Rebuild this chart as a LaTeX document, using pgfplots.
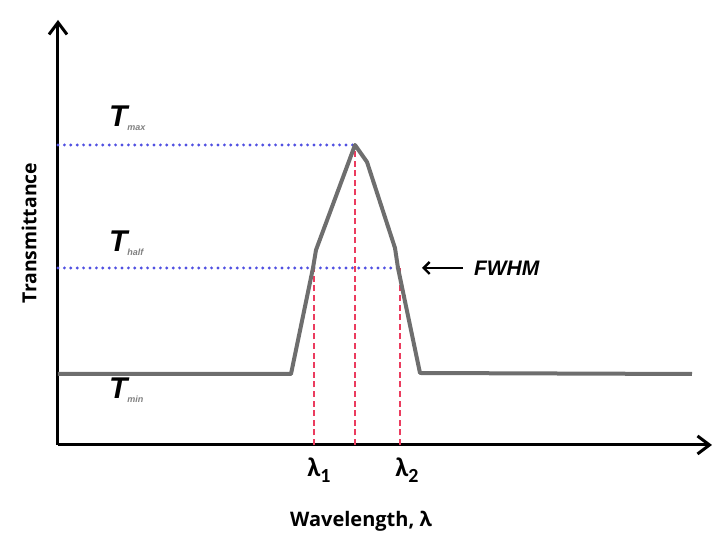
\documentclass[border=0pt]{standalone}
\usepackage{pgfplots}
\pgfplotsset{compat=1.18}
\usetikzlibrary{arrows.meta}
\usepackage{fontspec}
\setmainfont{Open Sans}
\newfontfamily\lsans{Liberation Sans}
\newfontfamily\carl{Carlito}
\definecolor{curvegray}{RGB}{110,110,110}
\definecolor{dotblue}{RGB}{80,80,225}
\definecolor{dashred}{RGB}{235,60,95}
\begin{document}
\begin{tikzpicture}
\begin{axis}[
  scale only axis, width=327pt, height=212.5pt,
  xmin=0, xmax=654, ymin=0, ymax=425,
  axis lines=left,
  axis line style={line width=1.5pt, -{Straight Barb[length=6pt,width=9pt,line width=1.5pt]}},
  xtick=\empty, ytick=\empty,
  clip=false,
]
\path (axis cs:-58,-88) rectangle (axis cs:656,445);
% blue dotted levels
\addplot[dotblue, line width=1.6pt, dash pattern=on 0pt off 3.2pt, line cap=round] coordinates {(0,300) (297,300)};
\addplot[dotblue, line width=1.6pt, dash pattern=on 0pt off 3.2pt, line cap=round] coordinates {(0,177) (342,177)};
% red dashed
\addplot[dashred, line width=0.8pt, dash pattern=on 3pt off 1.8pt] coordinates {(256,0) (256,177)};
\addplot[dashred, line width=0.8pt, dash pattern=on 3pt off 1.8pt] coordinates {(297,0) (297,300)};
\addplot[dashred, line width=0.8pt, dash pattern=on 3pt off 1.8pt] coordinates {(342,0) (342,177)};
% curve
\addplot[curvegray, line width=2pt, line join=round] coordinates {
(0,71) (233,71) (255,177) (258,195) (297,300) (309,283) (337,197) (340,177) (362,72) (634,71)};
% labels
\node[font=\lsans\bfseries\itshape\fontsize{15}{15}\selectfont, anchor=base west] at (axis cs:44,318) {T\raisebox{-0.2ex}{\fontsize{4.5}{4.5}\selectfont\color{gray}max}};
\node[font=\lsans\bfseries\itshape\fontsize{15}{15}\selectfont, anchor=base west] at (axis cs:44,193) {T\raisebox{-0.2ex}{\fontsize{4.5}{4.5}\selectfont\color{gray}half}};
\node[font=\lsans\bfseries\itshape\fontsize{15}{15}\selectfont, anchor=base west] at (axis cs:44,46) {T\raisebox{-0.2ex}{\fontsize{4.5}{4.5}\selectfont\color{gray}min}};
\node[font=\carl\bfseries\fontsize{13.5}{13.5}\selectfont] at (axis cs:261,-25) {λ\raisebox{-0.45ex}{\fontsize{10}{10}\selectfont 1}};
\node[font=\carl\bfseries\fontsize{13.5}{13.5}\selectfont] at (axis cs:349,-25) {λ\raisebox{-0.45ex}{\fontsize{10}{10}\selectfont 2}};
\draw[line width=1.2pt, -{Straight Barb[length=3pt,width=6pt,line width=1.2pt]}] (axis cs:405,177) -- (axis cs:364,177);
\node[font=\lsans\bfseries\itshape\fontsize{10.5}{10.5}\selectfont, anchor=west] at (axis cs:409,177) {FWHM};
\node[font=\bfseries\fontsize{10}{10}\selectfont] at (axis cs:303,-76) {Wavelength, λ};
\node[font=\bfseries\fontsize{9.7}{9.7}\selectfont, rotate=90] at (axis cs:-29,212) {Transmittance};
\end{axis}
\end{tikzpicture}
\end{document}
